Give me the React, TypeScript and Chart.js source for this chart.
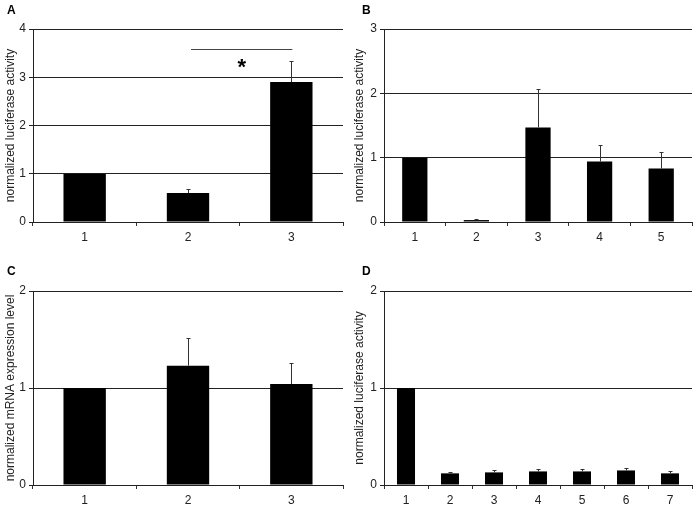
import React, { useEffect, useRef } from "react";
import { Chart, registerables } from "chart.js";

Chart.register(...registerables);

const labelsA = ["1", "2", "3"];
const valuesA = [1, 0.6, 2.9];
const errorsA = [0, 0.08, 0.43];
const ticksMaxA = 4;
const sigLineA = 3.59;
const sigStarA = 3.3;

const labelsB = ["1", "2", "3", "4", "5"];
const valuesB = [1, 0.03, 1.47, 0.94, 0.83];
const errorsB = [0, 0.01, 0.59, 0.25, 0.26];
const ticksMaxB = 3;

const labelsC = ["1", "2", "3"];
const valuesC = [1, 1.23, 1.04];
const errorsC = [0, 0.29, 0.22];
const ticksMaxC = 2;

const labelsD = ["1", "2", "3", "4", "5", "6", "7"];
const valuesD = [1, 0.12, 0.13, 0.14, 0.14, 0.15, 0.12];
const errorsD = [0, 0.015, 0.02, 0.03, 0.02, 0.03, 0.02];
const ticksMaxD = 2;

const FONT = "'Liberation Sans', Arial, sans-serif";

type PanelProps = {
  letter: string;
  labels: string[];
  values: number[];
  errors: number[];
  max: number;
  yTitle: string;
  left: number;
  top: number;
  width: number;
  height: number;
  area: { l: number; t: number; r: number; b: number };
  sig?: { line: number; star: number; from: number; to: number };
};

function Panel(p: PanelProps) {
  const ref = useRef<HTMLCanvasElement | null>(null);
  useEffect(() => {
    if (!ref.current) return;
    const errorPlugin = {
      id: "errbars",
      afterDatasetsDraw(chart: any) {
        const ctx = chart.ctx;
        const meta = chart.getDatasetMeta(0);
        const ys = chart.scales.y;
        ctx.save();
        ctx.strokeStyle = "#333";
        ctx.lineWidth = 1;
        meta.data.forEach((bar: any, i: number) => {
          const e = p.errors[i];
          if (!e) return;
          const x = Math.round(bar.x) + 0.5;
          const y0 = ys.getPixelForValue(p.values[i]);
          const y1 = Math.round(ys.getPixelForValue(p.values[i] + e)) + 0.5;
          ctx.beginPath();
          ctx.moveTo(x, y0);
          ctx.lineTo(x, y1);
          ctx.moveTo(x - 2, y1);
          ctx.lineTo(x + 2, y1);
          ctx.stroke();
        });
        if (p.sig) {
          const xs = chart.scales.x;
          const xa = xs.getPixelForValue(p.sig.from) + 3;
          const xb = xs.getPixelForValue(p.sig.to) + 1;
          const yl = Math.round(ys.getPixelForValue(p.sig.line)) + 0.5;
          ctx.strokeStyle = "#444";
          ctx.beginPath();
          ctx.moveTo(xa, yl);
          ctx.lineTo(xb, yl);
          ctx.stroke();
          ctx.fillStyle = "#000";
          ctx.font = `bold 22px ${FONT}`;
          ctx.textAlign = "center";
          ctx.textBaseline = "middle";
          ctx.fillText("*", (xa + xb) / 2, ys.getPixelForValue(p.sig.star) + 5);
        }
        ctx.restore();
      },
    };
    const chart = new Chart(ref.current, {
      type: "bar",
      data: {
        labels: p.labels,
        datasets: [
          {
            data: p.values,
            backgroundColor: "#000",
            borderColor: "#000",
            borderWidth: 0,
            barPercentage: 0.41,
            categoryPercentage: 1,
          },
        ],
      },
      options: {
        animation: false,
        responsive: false,
        maintainAspectRatio: false,
        layout: {
          padding: { top: p.area.t, right: p.width - p.area.r, left: 0, bottom: 0 },
        },
        plugins: { legend: { display: false }, tooltip: { enabled: false } },
        scales: {
          x: {
            offset: true,
            grid: {
              offset: true,
              drawOnChartArea: false,
              drawTicks: true,
              tickLength: 4,
              color: "#333",
            },
            border: { display: true, color: "#222", width: 1 },
            ticks: {
              color: "#222",
              padding: 4,
              font: { family: FONT, size: 12 },
              maxRotation: 0,
            },
            afterFit: (s: any) => {
              s.height = p.height - p.area.b;
            },
          },
          y: {
            min: 0,
            max: p.max,
            ticks: {
              stepSize: 1,
              color: "#222",
              padding: 3,
              font: { family: FONT, size: 12 },
            },
            grid: {
              color: "#222",
              lineWidth: 1,
              drawTicks: true,
              tickLength: 4,
            },
            border: { display: true, color: "#222", width: 1 },
            title: {
              display: true,
              text: p.yTitle,
              color: "#222",
              font: { family: FONT, size: 12 },
              padding: { top: 3, bottom: 0 },
            },
            afterFit: (s: any) => {
              s.width = p.area.l;
            },
          },
        },
      },
      plugins: [errorPlugin],
    });
    return () => chart.destroy();
  }, []);
  return (
    <div
      style={{
        position: "absolute",
        left: p.left,
        top: p.top,
        width: p.width,
        height: p.height,
      }}
    >
      <canvas
        ref={ref}
        width={p.width}
        height={p.height}
        style={{ width: p.width, height: p.height, display: "block" }}
      />
      <div
        style={{
          position: "absolute",
          left: p.letter === "A" || p.letter === "C" ? 7 : 13,
          top: p.letter === "A" || p.letter === "B" ? 3 : 14,
          font: `bold 12px ${FONT}`,
          color: "#000",
        }}
      >
        {p.letter}
      </div>
    </div>
  );
}

export default function App() {
  useEffect(() => {
    document.body.style.margin = "0";
  }, []);
  return (
    <div style={{ position: "fixed", left: 0, top: 0, width: 698, height: 507, background: "#fff" }}>
      <Panel
        letter="A"
        labels={labelsA}
        values={valuesA}
        errors={errorsA}
        max={ticksMaxA}
        yTitle="normalized luciferase activity"
        left={0}
        top={0}
        width={349}
        height={250}
        area={{ l: 33, t: 29, r: 343, b: 222 }}
        sig={{ line: sigLineA, star: sigStarA, from: 1, to: 2 }}
      />
      <Panel
        letter="B"
        labels={labelsB}
        values={valuesB}
        errors={errorsB}
        max={ticksMaxB}
        yTitle="normalized luciferase activity"
        left={349}
        top={0}
        width={349}
        height={250}
        area={{ l: 35, t: 29, r: 343, b: 222 }}
      />
      <Panel
        letter="C"
        labels={labelsC}
        values={valuesC}
        errors={errorsC}
        max={ticksMaxC}
        yTitle="normalized mRNA expression level"
        left={0}
        top={250}
        width={349}
        height={257}
        area={{ l: 33, t: 41, r: 343, b: 235 }}
      />
      <Panel
        letter="D"
        labels={labelsD}
        values={valuesD}
        errors={errorsD}
        max={ticksMaxD}
        yTitle="normalized luciferase activity"
        left={349}
        top={250}
        width={349}
        height={257}
        area={{ l: 35, t: 41, r: 343, b: 235 }}
      />
    </div>
  );
}
